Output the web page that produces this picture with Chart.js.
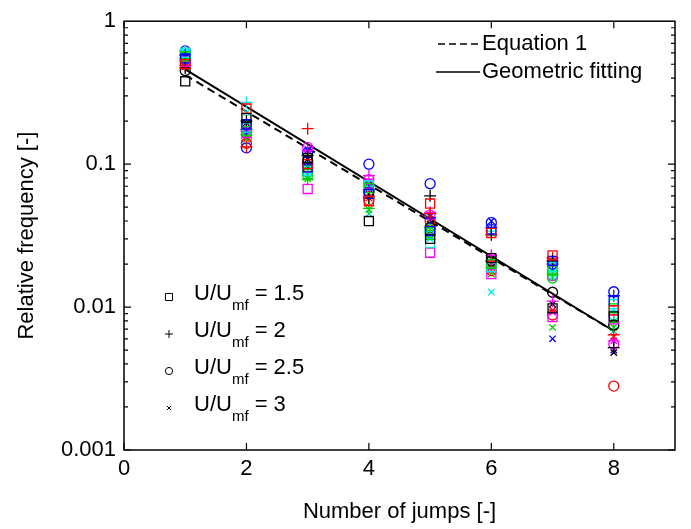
<!DOCTYPE html>
<html>
<head>
<meta charset="utf-8">
<script src="https://cdn.jsdelivr.net/npm/chart.js@4/dist/chart.umd.min.js"></script>
<style>
html, body { margin: 0; padding: 0; background: #fff; }
#wrap { width: 691px; height: 529px; }
</style>
</head>
<body>
<div id="wrap"><canvas id="jumps"></canvas></div>
<script>
// number of jumps on the x axis
const jumps = [1, 2, 3, 4, 5, 6, 7, 8];
const colours = ['#000000', '#ff0000', '#0000ff', '#00d000', '#00e8e8', '#ff00ff'];

// relative frequency, one row per colour (black, red, blue, green, cyan, magenta)
const ratio15 = [ // squares, U/Umf = 1.5
    [0.38, 0.21, 0.11, 0.040, 0.030, 0.022, 0.0098, 0.0086],
    [0.50, 0.245, 0.10, 0.055, 0.053, 0.033, 0.023, 0.0095],
    [0.55, 0.19, 0.095, 0.062, 0.034, 0.035, 0.021, 0.011],
    [0.57, 0.17, 0.085, 0.068, 0.032, 0.020, 0.018, 0.0098],
    [0.60, 0.18, 0.090, 0.071, 0.028, 0.019, 0.019, 0.0105],
    [0.52, 0.165, 0.067, 0.073, 0.024, 0.017, 0.0085, 0.0082]
];
const ratio2 = [ // plus, U/Umf = 2
    [0.47, 0.20, 0.115, 0.058, 0.060, 0.032, 0.021, 0.0052],
    [0.49, 0.132, 0.177, 0.060, 0.045, 0.021, 0.022, 0.0064],
    [0.58, 0.175, 0.10, 0.066, 0.042, 0.036, 0.020, 0.012],
    [0.55, 0.16, 0.078, 0.049, 0.036, 0.019, 0.017, 0.0078],
    [0.62, 0.27, 0.083, 0.070, 0.034, 0.034, 0.018, 0.0092],
    [0.53, 0.17, 0.125, 0.083, 0.046, 0.023, 0.011, 0.0058]
];
const ratio25 = [ // circles, U/Umf = 2.5
    [0.45, 0.19, 0.105, 0.064, 0.036, 0.021, 0.0127, 0.0075],
    [0.51, 0.14, 0.095, 0.056, 0.040, 0.018, 0.0088, 0.0028],
    [0.62, 0.13, 0.12, 0.10, 0.073, 0.039, 0.020, 0.0128],
    [0.56, 0.165, 0.088, 0.065, 0.033, 0.020, 0.016, 0.0074],
    [0.60, 0.15, 0.092, 0.072, 0.035, 0.021, 0.017, 0.0088],
    [0.54, 0.17, 0.131, 0.078, 0.044, 0.022, 0.0166, 0.0055]
];
const ratio3 = [ // crosses, U/Umf = 3
    [0.48, 0.195, 0.108, 0.062, 0.038, 0.019, 0.0105, 0.0048],
    [0.50, 0.15, 0.098, 0.058, 0.041, 0.018, 0.0095, 0.0062],
    [0.57, 0.16, 0.125, 0.068, 0.043, 0.040, 0.0060, 0.0050],
    [0.59, 0.155, 0.079, 0.048, 0.031, 0.017, 0.0072, 0.0072],
    [0.61, 0.23, 0.085, 0.045, 0.030, 0.0127, 0.016, 0.0068],
    [0.55, 0.175, 0.128, 0.075, 0.044, 0.020, 0.0092, 0.0058]
];

// fitted lines (straight on the log axis, so the end points are enough)
const fitJumps = [1, 8];
const equation1 = [0.42, 0.0068];
const geometricFit = [0.46, 0.0068];

const xTicks = [0, 2, 4, 6, 8];
const yTicks = [0.001, 0.01, 0.1, 1];

const groups = [
    { rows: ratio15, style: 'rect', radius: 6.4, label: '1.5' },
    { rows: ratio2, style: 'cross', radius: 6, label: '2' },
    { rows: ratio25, style: 'circle', radius: 5, label: '2.5' },
    { rows: ratio3, style: 'crossRot', radius: 4.5, label: '3' }
];

let datasets = [];
groups.forEach(g => {
    g.rows.forEach((row, i) => {
        datasets.push({
            type: 'scatter',
            data: row.map((v, k) => ({ x: jumps[k], y: v })),
            pointStyle: g.style,
            pointRadius: g.radius,
            borderColor: colours[i],
            backgroundColor: 'rgba(0,0,0,0)',
            borderWidth: 1.3
        });
    });
});
datasets.push({
    type: 'line',
    data: fitJumps.map((x, k) => ({ x: x, y: equation1[k] })),
    borderColor: '#000',
    borderWidth: 2,
    borderDash: [8, 5],
    pointRadius: 0
});
datasets.push({
    type: 'line',
    data: fitJumps.map((x, k) => ({ x: x, y: geometricFit[k] })),
    borderColor: '#000',
    borderWidth: 2,
    pointRadius: 0
});

const FONT = '"Liberation Sans", Arial, sans-serif';

// frame, inward ticks and the two legends
const decorations = {
    id: 'decorations',
    afterDraw(chart) {
        const ctx = chart.ctx;
        const a = chart.chartArea;
        const xs = chart.scales.x, ys = chart.scales.y;
        ctx.save();
        ctx.strokeStyle = '#000';
        ctx.lineWidth = 1.5;
        ctx.strokeRect(a.left, a.top, a.right - a.left, a.bottom - a.top);

        ctx.lineWidth = 1.2;
        ctx.beginPath();
        xTicks.forEach(v => {
            let px = xs.getPixelForValue(v);
            ctx.moveTo(px, a.bottom); ctx.lineTo(px, a.bottom - 7);
            ctx.moveTo(px, a.top); ctx.lineTo(px, a.top + 7);
        });
        for (let d = 0.001; d < 1; d *= 10) {
            for (let m = 1; m <= 9; m++) {
                let py = ys.getPixelForValue(d * m);
                let len = m === 1 ? 7 : 4;
                ctx.moveTo(a.left, py); ctx.lineTo(a.left + len, py);
                ctx.moveTo(a.right, py); ctx.lineTo(a.right - len, py);
            }
        }
        ctx.stroke();

        // line legend, top right
        ctx.fillStyle = '#000';
        ctx.font = '22px ' + FONT;
        ctx.textBaseline = 'middle';
        ctx.lineWidth = 1.3;
        ctx.beginPath();
        ctx.setLineDash([7, 4]);
        ctx.moveTo(438, 44); ctx.lineTo(480, 44);
        ctx.stroke();
        ctx.setLineDash([]);
        ctx.beginPath();
        ctx.moveTo(436, 72); ctx.lineTo(480, 72);
        ctx.stroke();
        ctx.fillText('Equation 1', 482, 44);
        ctx.fillText('Geometric fitting', 482, 72);

        // marker legend, bottom left
        const rowsY = [297, 334, 371, 408];
        const sizes = [5, 4, 3.6, 3];
        groups.forEach((g, i) => {
            let y = rowsY[i];
            ctx.fillStyle = 'rgba(0,0,0,0)';
            ctx.strokeStyle = '#000';
            ctx.lineWidth = 1;
            Chart.helpers.drawPoint(ctx, { pointStyle: g.style, radius: sizes[i], borderWidth: 1 }, 169, y);
            ctx.fillStyle = '#000';
            ctx.font = '22px ' + FONT;
            ctx.fillText('U/U', 194, y - 3);
            let w = ctx.measureText('U/U').width;
            ctx.font = '15px ' + FONT;
            ctx.fillText('mf', 194 + w, y + 9);
            let w2 = ctx.measureText('mf').width;
            ctx.font = '22px ' + FONT;
            ctx.fillText(' = ' + g.label, 194 + w + w2, y - 3);
        });
        ctx.restore();
    }
};

let ctx = document.getElementById('jumps').getContext('2d');
let jumpChart = new Chart(ctx, {
    data: { datasets: datasets },
    options: {
        responsive: true,
        maintainAspectRatio: false,
        animation: false,
        layout: { padding: { top: 15, right: 16, left: 0, bottom: 0 } },
        plugins: {
            legend: { display: false },
            tooltip: { enabled: false }
        },
        scales: {
            x: {
                type: 'linear',
                min: 0,
                max: 9,
                grid: { display: false, drawTicks: false },
                border: { display: false },
                afterBuildTicks: scale => { scale.ticks = xTicks.map(v => ({ value: v })); },
                afterFit: scale => { scale.height = 79; },
                ticks: { color: '#000', padding: 6, maxRotation: 0, font: { size: 22, family: FONT } },
                title: {
                    display: true,
                    text: 'Number of jumps [-]',
                    color: '#000',
                    font: { size: 22, family: FONT },
                    padding: { top: 0, bottom: 4 }
                }
            },
            y: {
                type: 'logarithmic',
                min: 0.001,
                max: 1,
                grid: { display: false, drawTicks: false },
                border: { display: false },
                afterBuildTicks: scale => { scale.ticks = yTicks.map(v => ({ value: v })); },
                afterFit: scale => { scale.width = 124; },
                ticks: {
                    color: '#000',
                    padding: 8,
                    font: { size: 22, family: FONT },
                    callback: v => String(v)
                },
                title: {
                    display: true,
                    text: 'Relative frequency [-]',
                    color: '#000',
                    font: { size: 22, family: FONT },
                    padding: { top: 14, bottom: 0 }
                }
            }
        }
    },
    plugins: [decorations]
});
</script>
</body>
</html>
